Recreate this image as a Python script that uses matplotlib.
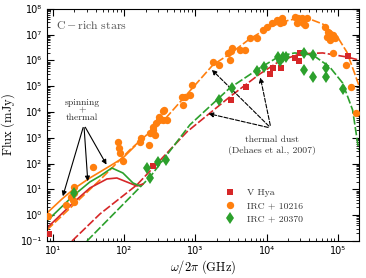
import matplotlib
matplotlib.use('Agg')
from matplotlib import pyplot as plt
from matplotlib.ticker import LogLocator, FuncFormatter, NullFormatter
import numpy as np

plt.rcParams['mathtext.fontset'] = 'cm'

red = '#d62728'
orange = '#ff7f0e'
green = '#2ca02c'

# observed fluxes (GHz, mJy)
vhya_f = [8.8, 253, 3150, 5120, 1.11e4, 1.22e4, 1.58e4, 2.49e4, 2.84e4, 2.93e4, 1.38e5]
vhya_s = [0.187, 81, 2.94e4, 9.4e4, 3.0e5, 5.2e5, 5.2e5, 1.26e6, 9.6e5, 1.96e6, 1.5e6]

irc1_f = [8.5, 15.2, 17.9, 19.1, 19.7, 19.7, 19.7, 36, 82, 84, 87, 96, 166, 222, 172,
          230, 253, 279, 308, 350, 398, 350, 308, 253, 270, 361, 647, 668, 713, 838,
          893, 1762, 2138, 2858, 3150, 3050, 3250, 4215, 4955, 5823, 7300, 8855,
          1.01e4, 1.19e4, 1.39e4, 1.64e4, 1.69e4, 1.54e4, 2.49e4, 2.75e4, 3.13e4,
          3.67e4, 2.66e4, 3.23e4, 3.44e4, 6.56e4, 7.24e4, 7.0e4, 7.72e4, 9.08e4,
          8.51e4, 8.51e4, 1.31e5, 1.54e5, 1.8e5]
irc1_s = [0.9, 2.5, 5.1, 3.9, 3.3, 12.4, 7.3, 74, 693, 406, 260, 127, 693, 531, 990,
          1.55e3, 2.0e3, 3.8e3, 4.9e3, 4.9e3, 4.9e3, 1.1e4, 6.5e3, 2.65e3, 1.3e3, 1.21e4,
          3.86e4, 1.89e4, 3.86e4, 4.6e4, 1.13e5, 8.8e5, 6.7e5, 1.96e6, 2.35e6, 1.05e6,
          3.07e6, 2.57e6, 2.57e6, 7.5e6, 7.5e6, 1.53e7, 2.0e7, 2.87e7, 3.74e7, 4.48e7,
          3.13e7, 2.87e7, 4.9e7, 4.48e7, 4.48e7, 4.48e7, 2.87e7, 2.87e7, 2.39e7, 2.0e7,
          1.28e7, 8.2e6, 6.3e6, 7.5e6, 9.8e6, 1.96e6, 6.7e5, 9.4e4, 9.2e3]

irc2_f = [19.7, 208, 230, 298, 385, 2140, 3250, 7300, 9140, 1.44e4, 1.54e4, 1.69e4,
          1.86e4, 3.33e4, 4.46e4, 3.33e4, 4.46e4, 6.8e4, 6.8e4, 1.17e5]
irc2_s = [7.3, 68, 27.8, 116, 139, 2.94e4, 8.6e4, 3.9e5, 5.6e5, 1.37e6, 9.6e5, 1.37e6,
          1.37e6, 1.96e6, 1.64e6, 4.3e5, 2.3e5, 5.2e5, 2.3e5, 7.9e4]

# thermal dust models (dashed)
vhya_th_f = [18.5, 45.7, 151, 760, 3050, 8040, 1.54e4, 2.93e4, 6.15e4, 1.34e5, 1.97e5]
vhya_th_s = [0.1, 1.12, 15, 1.7e3, 3.9e4, 3.0e5, 9.6e5, 1.8e6, 1.96e6, 1.37e6, 1.05e6]

irc1_th_f = [8.24, 45.7, 120, 398, 838, 1762, 3050, 5823, 1.11e4, 2.1e4, 3.67e4,
             6.15e4, 9.7e4, 1.34e5, 1.7e5, 1.97e5]
irc1_th_s = [0.27, 23.3, 340, 6.5e3, 6.6e4, 6.7e5, 1.8e6, 6.9e6, 2.0e7, 3.74e7, 4.48e7,
             2.6e7, 9.0e6, 2.15e6, 3.6e5, 1.13e5]

irc2_th_f = [30, 230, 838, 3050, 8040, 1.54e4, 2.49e4, 4.46e4, 7.72e4, 1.17e5, 1.62e5, 1.97e5]
irc2_th_s = [0.1, 30, 3.2e3, 8.6e4, 5.1e5, 1.5e6, 1.96e6, 1.64e6, 5.6e5, 1.35e5, 1.2e4, 3.4e2]

# spinning + thermal models (solid)
vhya_sp_f = [8.24, 19.1, 33, 57.3, 79, 109, 151, 183]
vhya_sp_s = [0.32, 3.0, 11.4, 25.5, 27.8, 19.5, 13.6, 16.3]

irc1_sp_f = [8.24, 13.4, 20.4, 33, 45.7, 63, 96, 142]
irc1_sp_s = [1.22, 4.27, 11.4, 27.9, 47.6, 81, 166, 485]

irc2_sp_f = [8.24, 19.1, 33, 45.7, 67, 96, 133, 166]
irc2_sp_s = [0.6, 5.6, 19.5, 33, 68, 43.5, 17.8, 13.6]

fig = plt.figure(figsize=(3.66, 2.78), dpi=100)
ax = fig.add_axes([0.128, 0.133, 0.852, 0.835])

ax.plot(irc1_th_f, irc1_th_s, color=orange, lw=1.2, ls=(0, (5, 1.5)))
ax.plot(vhya_th_f, vhya_th_s, color=red, lw=1.2, ls=(0, (5, 1.5)))
ax.plot(irc2_th_f, irc2_th_s, color=green, lw=1.2, ls=(0, (5, 1.5)))
ax.plot(irc1_sp_f, irc1_sp_s, color=orange, lw=1.2)
ax.plot(vhya_sp_f, vhya_sp_s, color=red, lw=1.2)
ax.plot(irc2_sp_f, irc2_sp_s, color=green, lw=1.2)

ax.plot(vhya_f, vhya_s, 's', color=red, ms=5, mew=0, label='V Hya', zorder=5)
ax.plot(irc1_f, irc1_s, 'o', color=orange, ms=5.3, mew=0, label='IRC + 10216', zorder=4)
ax.plot(irc2_f, irc2_s, 'd', color=green, ms=6.5, mew=0, label='IRC + 20370', zorder=5)

ax.set_xscale('log')
ax.set_yscale('log')
ax.set_xlim(8.2, 1.97e5)
ax.set_ylim(0.1, 1e8)

sup = str.maketrans('-0123456789', '\u207b\u2070\u00b9\u00b2\u00b3\u2074\u2075\u2076\u2077\u2078\u2079')
fmt = FuncFormatter(lambda v, p: '10' + str(int(round(np.log10(v)))).translate(sup))
for a in (ax.xaxis, ax.yaxis):
    a.set_major_locator(LogLocator(base=10, numticks=20))
    a.set_minor_locator(LogLocator(base=10, subs=np.arange(2, 10), numticks=100))
    a.set_major_formatter(fmt)
    a.set_minor_formatter(NullFormatter())
ax.tick_params(which='both', direction='in', top=True, right=True, labelsize=7)
ax.tick_params(which='major', length=5, width=0.8)
ax.tick_params(which='minor', length=2.5, width=0.6)

ax.set_xlabel(r'$\omega/2\pi\ \mathrm{(GHz)}$', fontsize=9, labelpad=2)
ax.set_ylabel(r'$\mathrm{Flux\ (mJy)}$', fontsize=9, labelpad=3)

ax.text(0.029, 0.927, r'$\mathrm{C-rich\ stars}$', transform=ax.transAxes,
        color='#555555', fontsize=8.5, va='center')

ax.text(25.5, 1.2e4, 'spinning\n+\nthermal', ha='center', va='center', fontsize=7,
        family='cmr10', color='#333333', linespacing=0.85)
for tx, ty in [(13.4, 4.3), (31, 16.3), (59, 74)]:
    ax.annotate('', xy=(tx, ty), xytext=(27.2, 3.2e3),
                arrowprops=dict(arrowstyle='-|>', color='black', lw=0.8, mutation_scale=7))

ax.text(1.19e4, 510, 'thermal dust\n(Dehaes et al., 2007)', ha='center', va='center',
        fontsize=7, family='cmr10', color='#333333', linespacing=1.35)
for tx, ty in [(1600, 5.2e5), (8040, 2.8e5), (1400, 9.2e3)]:
    ax.annotate('', xy=(tx, ty), xytext=(1.15e4, 2.4e3),
                arrowprops=dict(arrowstyle='-|>', color='black', lw=0.8, ls='--',
                                mutation_scale=7))

leg = ax.legend(loc='upper left', bbox_to_anchor=(0.535, 0.265), frameon=False,
                handletextpad=1.0, labelspacing=0.45, handlelength=1.5,
                prop={'family': 'cmr10', 'size': 7})
for t in leg.get_texts():
    t.set_color('#333333')

fig.savefig('out.png', dpi=100)
